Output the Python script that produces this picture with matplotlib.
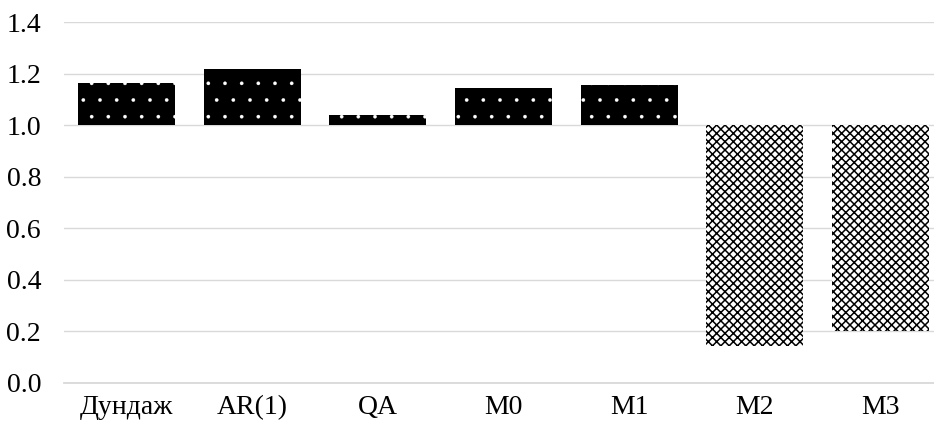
import matplotlib
matplotlib.use("Agg")
import matplotlib.pyplot as plt

# ---- data -------------------------------------------------------------
labels = ["Дундаж", "AR(1)", "QA", "M0", "M1", "M2", "M3"]
values = [1.162, 1.217, 1.038, 1.143, 1.154, 0.142, 0.202]
base = 1.0
yticks = [0.0, 0.2, 0.4, 0.6, 0.8, 1.0, 1.2, 1.4]

# ---- chart ------------------------------------------------------------
plt.rcParams["font.family"] = ["Liberation Serif", "DejaVu Serif"]

fig = plt.figure(figsize=(9.34, 4.28), dpi=100)
ax = fig.add_axes([64 / 934, 45 / 428, 879 / 934, 361 / 428])

x = range(len(labels))
for i, v in zip(x, values):
    if v >= base:
        # black bar with sparse small white dots
        with plt.rc_context({"hatch.linewidth": 0.2}):
            ax.bar(i, v - base, bottom=base, width=0.773, color="black",
                   edgecolor="white", hatch=".", linewidth=0, zorder=3)
    else:
        # fine black/white check pattern
        with plt.rc_context({"hatch.linewidth": 1.1}):
            ax.bar(i, v - base, bottom=base, width=0.773, color="white",
                   edgecolor="black", hatch="xxxx", linewidth=0, zorder=3)

ax.set_xlim(-0.5, len(labels) - 0.5)
ax.set_ylim(0, 1.4)
ax.set_yticks(yticks)
ax.set_yticklabels([f"{t:.1f}" for t in yticks])
ax.set_xticks(list(x))
ax.set_xticklabels(labels)
ax.grid(axis="y", color="#d9d9d9", linewidth=1.0, zorder=0)
ax.tick_params(axis="both", length=0, labelsize=20, colors="black")
ax.tick_params(axis="y", pad=16.5)
ax.tick_params(axis="x", pad=9)
for side in ["top", "right", "left"]:
    ax.spines[side].set_visible(False)
ax.spines["bottom"].set_color("#d9d9d9")
ax.spines["bottom"].set_linewidth(1.3)

fig.savefig("out.png", dpi=100)
